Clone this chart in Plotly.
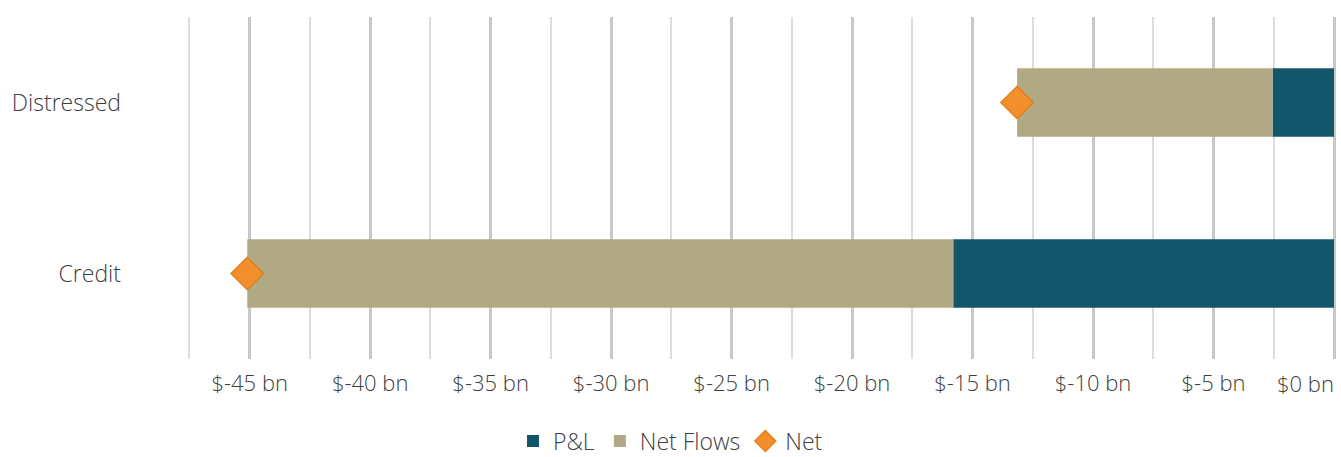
import plotly.graph_objects as go

# data ($ bn)
categories = ["Credit", "Distressed"]
pnl = [-15.8, -2.55]
net_flows = [-29.3, -10.6]
net = [-45.1, -13.15]

tick_vals = [-45, -40, -35, -30, -25, -20, -15, -10, -5, 0]
tick_text = ["$-45 bn", "$-40 bn", "$-35 bn", "$-30 bn", "$-25 bn",
             "$-20 bn", "$-15 bn", "$-10 bn", "$-5 bn", ""]

FONT = "Open Sans"
TEXT = "#404040"

fig = go.Figure()

fig.add_trace(go.Bar(
    y=categories, x=pnl, orientation="h", name="P&L",
    marker=dict(color="#12566b", line_width=0), width=0.4,
))
fig.add_trace(go.Bar(
    y=categories, x=net_flows, orientation="h", name="Net Flows",
    marker=dict(color="#b1a983", line_width=0), width=0.4,
))
fig.add_trace(go.Scatter(
    y=categories, x=net, mode="markers", name="Net",
    marker=dict(symbol="diamond", size=25, color="#f28e2b",
                line=dict(color="#e0801f", width=1.5)),
))

# "$0 bn" sits inside the right edge in the original
fig.add_annotation(
    x=0, y=0, xref="x", yref="paper", yanchor="middle", xanchor="right",
    text="$0 bn", showarrow=False, xshift=2, yshift=-24,
    font=dict(family=FONT, size=22, color=TEXT, weight=300),
)

fig.update_layout(
    width=1341, height=457,
    barmode="relative",
    plot_bgcolor="white", paper_bgcolor="white",
    margin=dict(l=188, r=7, t=17, b=98),
    font=dict(family=FONT, size=22, color=TEXT, weight=300),
    showlegend=True,
    legend=dict(orientation="h", xref="container", yref="container",
                x=0.5, xanchor="center", y=0.035, yanchor="middle",
                font=dict(size=23), itemwidth=30, traceorder="normal"),
    xaxis=dict(
        range=[-47.56, 0], tickvals=tick_vals, ticktext=tick_text,
        showgrid=True, gridcolor="#c8c8c8", gridwidth=3,
        zeroline=True, zerolinecolor="#c8c8c8", zerolinewidth=3,
        minor=dict(dtick=2.5, tick0=0, showgrid=True, gridcolor="#dcdcdc", gridwidth=2),
        ticks="", ticklabelstandoff=9,
        showline=False, automargin=False,
    ),
    yaxis=dict(
        categoryorder="array", categoryarray=categories,
        range=[-0.5, 1.5], showgrid=False, zeroline=False,
        ticks="", ticklabelstandoff=66, tickfont=dict(size=23),
        automargin=False,
    ),
)

# page body margin would push the figure off the window
fig.write_html("out.html", config={"displayModeBar": False},
               post_script="document.body.style.margin='0';")
